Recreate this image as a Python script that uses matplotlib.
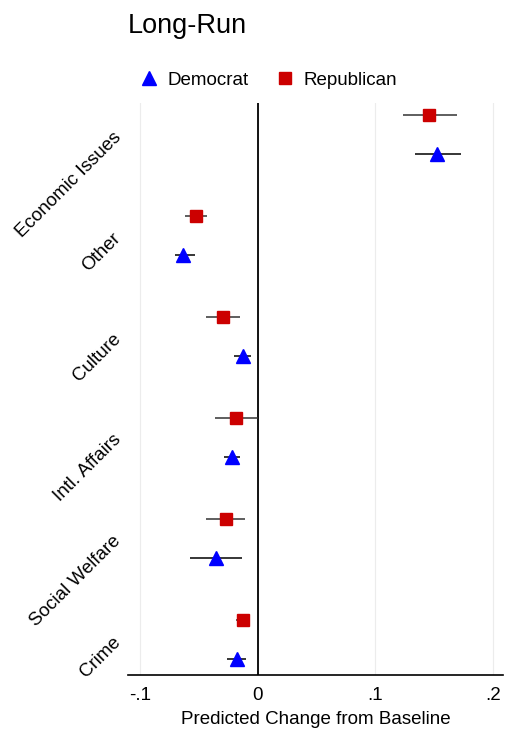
import numpy as np
import matplotlib
matplotlib.use('Agg')
import matplotlib.pyplot as plt

plt.rcParams['font.family'] = ['Liberation Sans', 'DejaVu Sans']

# categories, top to bottom
issues = ['Economic Issues', 'Other', 'Culture', 'Intl. Affairs', 'Social Welfare', 'Crime']

# Republican estimates and 95% intervals
rep_est = [0.1455, -0.053, -0.030, -0.019, -0.027, -0.013]
rep_lo = [0.123, -0.062, -0.044, -0.037, -0.044, -0.019]
rep_hi = [0.169, -0.043, -0.015, 0.000, -0.011, -0.007]

# Democrat estimates and 95% intervals
dem_est = [0.152, -0.064, -0.013, -0.022, -0.036, -0.018]
dem_lo = [0.134, -0.071, -0.020, -0.029, -0.058, -0.026]
dem_hi = [0.173, -0.054, -0.006, -0.015, -0.014, -0.010]

xticks = [-0.1, 0, 0.1, 0.2]
xtick_labels = ['-.1', '0', '.1', '.2']

red = '#cc0000'
blue = '#0000ff'

fig = plt.figure(figsize=(5.05, 7.34), dpi=100)
ax = fig.add_axes([0.2535, 0.0804, 0.7425, 0.7793])

pos = np.arange(len(issues))[::-1].astype(float)
off = 0.195

for x in xticks:
    ax.axvline(x, color='#ececec', lw=0.8, zorder=0)
ax.axvline(0, color='black', lw=1.3, zorder=1)

ax.hlines(pos + off, rep_lo, rep_hi, color='#333333', lw=1.1, zorder=2)
ax.hlines(pos - off, dem_lo, dem_hi, color='black', lw=1.1, zorder=2)
ax.plot(dem_est, pos - off, linestyle='none', marker='^', color=blue,
        markersize=9.5, label='Democrat', zorder=3)
ax.plot(rep_est, pos + off, linestyle='none', marker='s', color=red,
        markersize=8.5, label='Republican', zorder=3)

ax.set_xlim(-0.1106, 0.2085)
ax.set_ylim(-0.355, 5.315)

ax.set_xticks(xticks)
ax.set_xticklabels(xtick_labels, fontsize=13.5)
ax.set_yticks(pos)
ax.set_yticklabels(issues, fontsize=13.5, rotation=45, ha='right', va='center',
                   rotation_mode='anchor')
ax.tick_params(axis='both', length=0)
ax.tick_params(axis='y', pad=7)
ax.tick_params(axis='x', pad=9)

for s in ['top', 'right', 'left']:
    ax.spines[s].set_visible(False)
ax.spines['bottom'].set_linewidth(1.2)

ax.set_xlabel('Predicted Change from Baseline', fontsize=13.5, labelpad=5)

fig.text(0.2535, 0.964, 'Long-Run', fontsize=19.5, ha='left', va='center')

ax.legend(loc='center left', bbox_to_anchor=(0.01, 1.04), ncol=2, frameon=False,
          fontsize=13.5, handlelength=1.0, handletextpad=0.5, columnspacing=1.45,
          borderaxespad=0)

fig.savefig('out.png', dpi=100)
